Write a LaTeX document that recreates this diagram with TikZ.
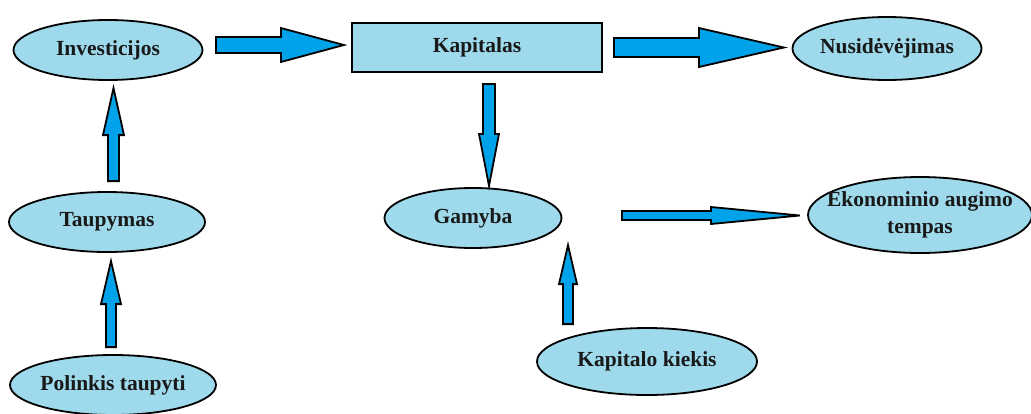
\documentclass[tikz,border=0pt]{standalone}
\usepackage{fontspec}
\setmainfont{Liberation Serif}
\usetikzlibrary{shapes.geometric,calc}
\definecolor{boxfill}{RGB}{158,218,236}
\definecolor{arrfill}{RGB}{0,163,233}
\tikzset{
  lbl/.style={font=\bfseries\fontsize{21.5}{27}\selectfont, text=black!90, inner sep=0pt, line width=1.8pt, draw=black, fill=boxfill},
  oval/.style={lbl, ellipse},
  rectbox/.style={lbl, rectangle},
  blockarr/.style={draw=black, fill=arrfill, line width=1.8pt, line join=miter}
}
\begin{document}
\begin{tikzpicture}[x=1pt,y=-1pt]
\useasboundingbox[fill=white] (0,0) rectangle (1031,413);
% nodes
\node[oval, minimum width=189pt, minimum height=60pt, inner xsep=-4pt] (inv) at (108,50) {Investicijos};
\node[rectbox, minimum width=250pt, minimum height=49pt] (kap) at (477,47.5) {Kapitalas};
\node[oval, minimum width=189pt, minimum height=63pt, inner xsep=-6pt] (nus) at (887,48.5) {Nusidėvėjimas};
\node[oval, minimum width=196pt, minimum height=60pt, inner xsep=-4pt] (tau) at (107,222) {Taupymas};
\node[oval, minimum width=206pt, minimum height=60pt, inner xsep=-6pt] (pol) at (113,385) {Polinkis taupyti};
\node[oval, minimum width=177pt, minimum height=60pt, inner xsep=-4pt] (gam) at (473,218) {Gamyba};
\node[oval, minimum width=224pt, minimum height=76pt, align=center, inner xsep=-16pt, inner ysep=-5pt] (eko) at (920,215) {Ekonominio augimo\\tempas};
\node[oval, minimum width=220pt, minimum height=67pt, inner xsep=-6pt] (kk) at (647,361.5) {Kapitalo kiekis};
% block arrows
% Investicijos -> Kapitalas
\draw[blockarr] ($(inv.east)+(12.5,-13)$) -- ++(65,0) -- ++(0,-9) -- ++(63,17) -- ++(-63,17) -- ++(0,-9) -- ++(-65,0) -- cycle;
% Kapitalas -> Nusidevejimas
\draw[blockarr] ($(kap.east)+(11,-9.5)$) -- ++(85,0) -- ++(0,-10) -- ++(85,19.5) -- ++(-85,19.5) -- ++(0,-10) -- ++(-85,0) -- cycle;
% Kapitalas -> Gamyba
\draw[blockarr] ($(kap.south)+(6,11)$) -- ++(0,50) -- ++(-4,0) -- ++(10,52) -- ++(10,-52) -- ++(-4,0) -- ++(0,-50) -- cycle;
% Taupymas -> Investicijos
\draw[blockarr] ($(tau.north)+(1,-10)$) -- ++(0,-46) -- ++(-5,0) -- ++(10.5,-47) -- ++(10.5,47) -- ++(-5,0) -- ++(0,46) -- cycle;
% Polinkis taupyti -> Taupymas
\draw[blockarr] ($(pol.north)+(-7,-7)$) -- ++(0,-43) -- ++(-5,0) -- ++(10,-43) -- ++(10,43) -- ++(-5,0) -- ++(0,43) -- cycle;
% Kapitalo kiekis -> Gamyba
\draw[blockarr] ($(kk.north)+(-84,-3)$) -- ++(0,-40) -- ++(-4,0) -- ++(9,-39) -- ++(9,39) -- ++(-4,0) -- ++(0,40) -- cycle;
% Gamyba -> Ekonominio augimo tempas
\draw[blockarr] ($(gam.east)+(59.5,-7)$) -- ++(89,0) -- ++(0,-4) -- ++(89,8.5) -- ++(-89,8.5) -- ++(0,-4) -- ++(-89,0) -- cycle;
\end{tikzpicture}
\end{document}
